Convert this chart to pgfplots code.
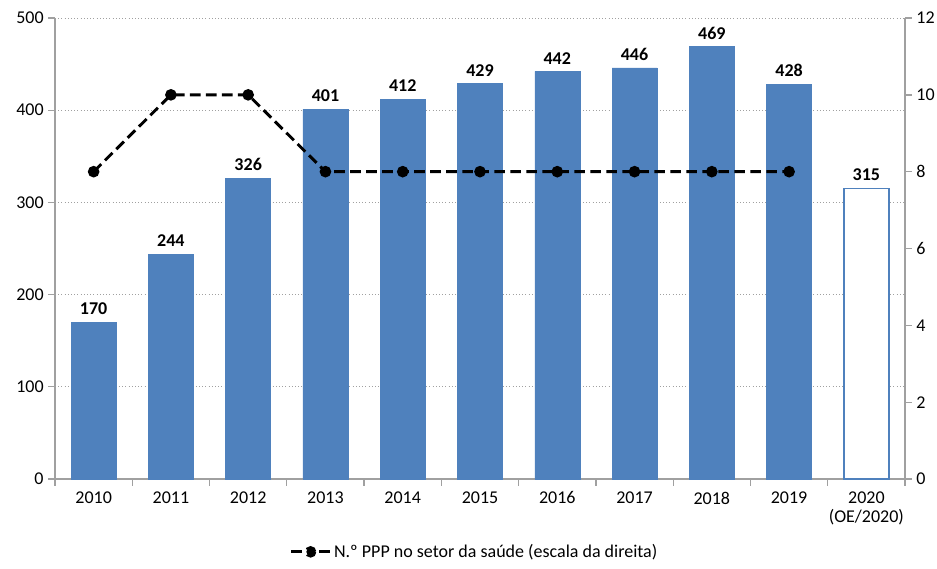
\documentclass[border=0pt]{standalone}
\usepackage{fontspec}
\setmainfont{Carlito}
\usepackage{pgfplots}
\pgfplotsset{compat=1.18}
\definecolor{barblue}{HTML}{4F81BD}
\definecolor{axgray}{HTML}{A0A0A0}
\begin{document}
\begin{tikzpicture}
\useasboundingbox (-41.25pt,-66.75pt) rectangle (661.5pt,359.25pt);
\begin{axis}[
  at={(0,0)}, anchor=south west,
  scale only axis, width=637.5pt, height=345.75pt,
  xmin=-0.5, xmax=10.5, ymin=0, ymax=500,
  axis x line*=bottom, axis y line*=left,
  axis line style={axgray, line width=1pt, -},
  xtick={0,...,10},
  xticklabels={2010,2011,2012,2013,2014,2015,2016,2017,2018,2019,{2020\\(OE/2020)}},
  xticklabel style={align=center, font=\fontsize{13.5}{14.5}\selectfont},
  x tick label style={yshift=-1pt},
  major x tick style={draw=none},
  minor xtick={-0.5,0.5,...,10.5},
  minor x tick style={axgray, line width=1pt},
  minor tick length=5pt,
  ytick={0,100,...,500},
  ymajorgrids, grid style={axgray, dotted, line width=0.5pt},
  y tick style={axgray, line width=1pt},
  major tick length=5pt,
  tick align=outside,
  yticklabel style={font=\fontsize{13.5}{14.5}\selectfont},
  /pgf/number format/assume math mode=true,
  ybar, bar width=33.75pt,
  nodes near coords,
  nodes near coords style={font=\bfseries\fontsize{13.5}{14.5}\selectfont, yshift=2pt},
  clip=false,
]
\addplot[fill=barblue, draw=barblue, bar shift=0pt] coordinates {
 (0,170) (1,244) (2,326) (3,401) (4,412) (5,429) (6,442) (7,446) (8,469) (9,428)};
\addplot[fill=white, draw=barblue, line width=1pt, bar shift=0pt] coordinates {(10,315)};
\end{axis}
\begin{axis}[
  at={(0,0)}, anchor=south west,
  scale only axis, width=637.5pt, height=345.75pt,
  xmin=-0.5, xmax=10.5, ymin=0, ymax=12,
  axis x line=none, axis y line*=right,
  axis line style={axgray, line width=1pt, -},
  ytick={0,2,...,12},
  y tick style={axgray, line width=1pt},
  major tick length=5pt,
  tick align=outside,
  yticklabel style={font=\fontsize{13.5}{14.5}\selectfont},
  /pgf/number format/assume math mode=true,
  legend style={at={(0.494,-0.158)}, anchor=center, draw=none, fill=none,
    font=\fontsize{13.5}{14.5}\selectfont, legend cell align=left},
  legend image code/.code={
    \draw[black, line width=2.2pt, dash pattern=on 100pt off 0pt] (0pt,0pt) -- (8pt,0pt);
    \draw[black, line width=2.2pt, dash pattern=on 100pt off 0pt] (21pt,0pt) -- (29pt,0pt);
    \fill[black] (14.5pt,0pt) circle (3.2pt);
  },
  clip=false,
]
\addplot[black, line width=2.2pt, dash pattern=on 8pt off 4pt, mark=*, mark size=3.2pt,
  mark options={solid, fill=black}] coordinates {
 (0,8) (1,10) (2,10) (3,8) (4,8) (5,8) (6,8) (7,8) (8,8) (9,8)};
\addlegendentry{N.º PPP no setor da saúde (escala da direita)}
\end{axis}
\end{tikzpicture}
\end{document}
